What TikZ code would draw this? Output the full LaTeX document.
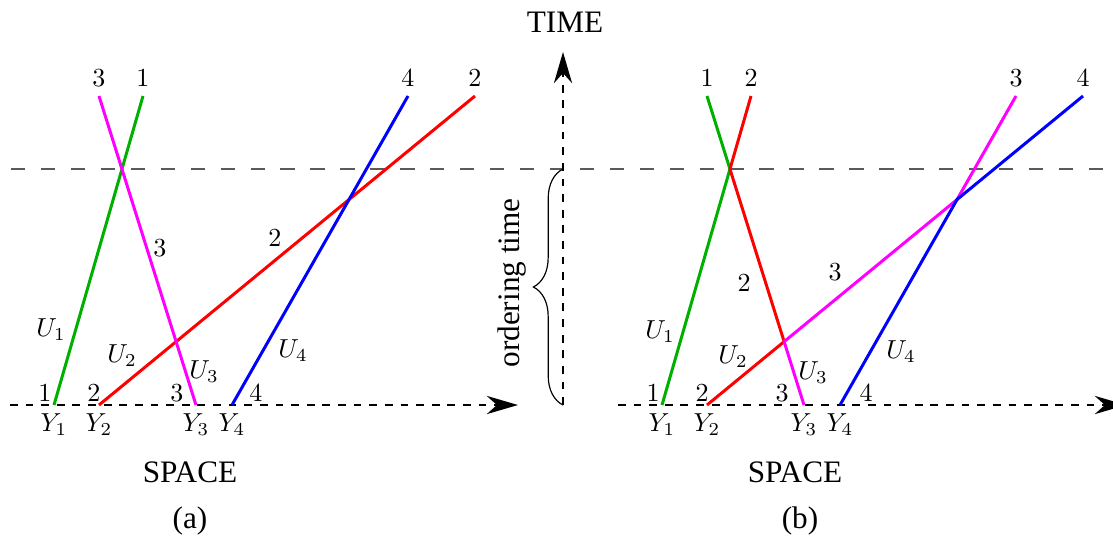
\documentclass[tikz,border=0pt]{standalone}
\usepackage{fontspec}
\newfontfamily\timesfont{Liberation Serif}
\usetikzlibrary{arrows.meta,decorations.pathreplacing}
\definecolor{pgreen}{HTML}{00B000}
\definecolor{pred}{HTML}{FF0000}
\definecolor{pmagenta}{HTML}{FF00FF}
\definecolor{pblue}{HTML}{0000FF}
\definecolor{ordgray}{HTML}{5A5A5A}

\begin{document}
\begin{tikzpicture}[x=1.35cm,y=1.35cm,
    traj/.style={line width=1.15pt},
    axis/.style={dashed,line width=0.75pt,-{Stealth[length=12pt,width=7pt]}},
    txt/.style={font=\timesfont\fontsize{12}{14}\selectfont},
    tip/.style={above}]
  \useasboundingbox (0,0) rectangle (11.13,5.36);

  % time axis and the ordering line
  \coordinate (torig) at (5.63,1.31);
  \coordinate (ttip) at (5.63,4.84);
  \coordinate (tord) at (5.63,3.67);
  \coordinate (ordl) at (0.11,3.67);
  \coordinate (ordr) at (11.2,3.67);
  \draw[ordgray,line width=0.75pt,dash pattern=on 5.5pt off 6pt] (ordl) -- (ordr);
  \draw[axis] (torig) -- (ttip);
  \node[txt] (time) at (5.65,5.14) {TIME};
  \draw[decorate,decoration={brace,amplitude=0.4cm},line width=0.45pt] (torig) -- (tord);
  \node[txt,rotate=90] (ordtime) at (5.12,2.53) {ordering time};

  % (a): straight trajectories
  \coordinate (sa0) at (0.10,1.31);
  \coordinate (sa1) at (5.18,1.31);
  \draw[axis] (sa0) -- (sa1);
  \coordinate (y1a) at (0.54,1.31);
  \coordinate (y2a) at (0.99,1.31);
  \coordinate (y3a) at (1.96,1.31);
  \coordinate (y4a) at (2.32,1.31);
  \coordinate (t1a) at (1.43,4.40);
  \coordinate (t2a) at (4.75,4.40);
  \coordinate (t3a) at (0.99,4.40);
  \coordinate (t4a) at (4.08,4.40);
  \draw[traj,pgreen] (y1a) -- (t1a);
  \draw[traj,pred] (y2a) -- (t2a);
  \draw[traj,pmagenta] (y3a) -- (t3a);
  \draw[traj,pblue] (y4a) -- (t4a);
  \node[tip] (n1a) at (t1a) {$1$};
  \node[tip] (n2a) at (t2a) {$2$};
  \node[tip] (n3a) at (t3a) {$3$};
  \node[tip] (n4a) at (t4a) {$4$};
  \node[below] (Y1a) at (y1a) {$Y_1$};
  \node[below] (Y2a) at (y2a) {$Y_2$};
  \node[below] (Y3a) at (y3a) {$Y_3$};
  \node[below] (Y4a) at (y4a) {$Y_4$};
  \node (b1a) at (0.45,1.43) {$1$};
  \node (b2a) at (0.94,1.43) {$2$};
  \node (b3a) at (1.77,1.43) {$3$};
  \node (b4a) at (2.56,1.43) {$4$};
  \node (u1a) at (0.51,2.06) {$U_1$};
  \node (u2a) at (1.22,1.80) {$U_2$};
  \node (u3a) at (2.04,1.64) {$U_3$};
  \node (u4a) at (2.93,1.85) {$U_4$};
  \node (m3a) at (1.60,2.88) {$3$};
  \node (m2a) at (2.75,2.98) {$2$};
  \node[txt] (spacea) at (1.90,0.64) {SPACE};
  \node[txt] (capa) at (1.90,0.15) {(a)};

  % (b): same paths, colour by rank
  \begin{scope}[shift={(6.08,0)}]
    \coordinate (sb0) at (0.10,1.31);
    \coordinate (sb1) at (5.18,1.31);
    \draw[axis] (sb0) -- (sb1);
    \coordinate (y1b) at (0.54,1.31);
    \coordinate (y2b) at (0.99,1.31);
    \coordinate (y3b) at (1.96,1.31);
    \coordinate (y4b) at (2.32,1.31);
    \coordinate (t1b) at (0.99,4.40);
    \coordinate (t2b) at (1.43,4.40);
    \coordinate (t3b) at (4.08,4.40);
    \coordinate (t4b) at (4.75,4.40);
    \coordinate (q) at (intersection of y1b--t2b and y3b--t1b);
    \coordinate (p) at (intersection of y2b--t4b and y3b--t1b);
    \coordinate (r) at (intersection of y2b--t4b and y4b--t3b);
    \draw[traj,pgreen] (y1b) -- (q) -- (t1b);
    \draw[traj,pred] (y2b) -- (p) -- (q) -- (t2b);
    \draw[traj,pmagenta] (y3b) -- (p) -- (r) -- (t3b);
    \draw[traj,pblue] (y4b) -- (r) -- (t4b);
    \node[tip] (n1b) at (t1b) {$1$};
    \node[tip] (n2b) at (t2b) {$2$};
    \node[tip] (n3b) at (t3b) {$3$};
    \node[tip] (n4b) at (t4b) {$4$};
    \node[below] (Y1b) at (y1b) {$Y_1$};
    \node[below] (Y2b) at (y2b) {$Y_2$};
    \node[below] (Y3b) at (y3b) {$Y_3$};
    \node[below] (Y4b) at (y4b) {$Y_4$};
    \node (b1b) at (0.45,1.43) {$1$};
    \node (b2b) at (0.94,1.43) {$2$};
    \node (b3b) at (1.74,1.43) {$3$};
    \node (b4b) at (2.58,1.43) {$4$};
    \node (u1b) at (0.52,2.04) {$U_1$};
    \node (u2b) at (1.25,1.79) {$U_2$};
    \node (u3b) at (2.05,1.63) {$U_3$};
    \node (u4b) at (2.93,1.84) {$U_4$};
    \node (m2b) at (1.36,2.53) {$2$};
    \node (m3b) at (2.27,2.64) {$3$};
    \node[txt] (spaceb) at (1.87,0.64) {SPACE};
    \node[txt] (capb) at (1.92,0.15) {(b)};
  \end{scope}
\end{tikzpicture}
\end{document}
